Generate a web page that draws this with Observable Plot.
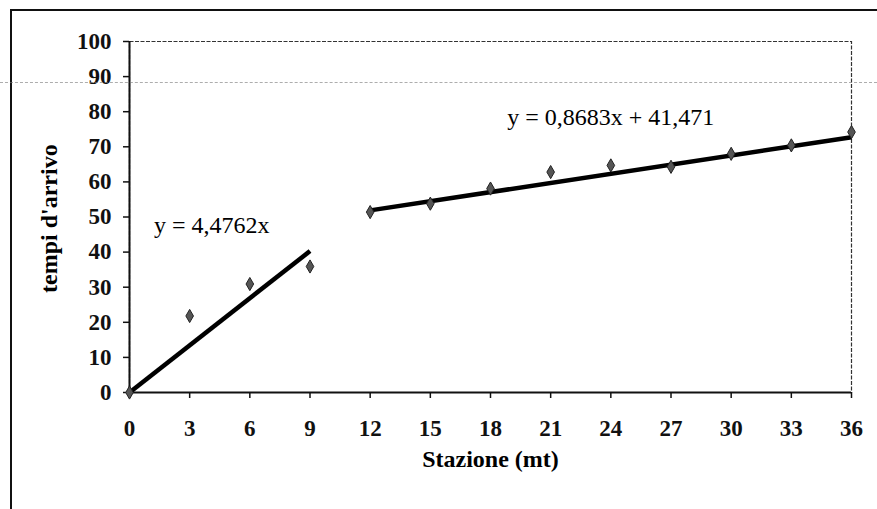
<!DOCTYPE html>
<html>
<head>
<meta charset="utf-8">
<script src="https://cdn.jsdelivr.net/npm/d3@7"></script>
<script src="https://cdn.jsdelivr.net/npm/@observablehq/plot@0.6"></script>
<style>
  html, body { margin: 0; padding: 0; background: #fff; }
  #wrap { position: relative; width: 877px; height: 509px; overflow: hidden; }
  #border { position: absolute; left: 10px; top: 9px; width: 900px; height: 520px;
            border-left: 2px solid #111; border-top: 2px solid #111; }
  #scanline { position: absolute; left: 0; top: 82px; width: 877px; height: 0;
              border-top: 1px dashed #777; opacity: 0.6; }
  #chart { position: absolute; left: 0; top: 0; }
</style>
</head>
<body>
<div id="wrap">
  <div id="border"></div>
  <div id="chart"></div>
  <div id="scanline"></div>
</div>
<script>
// Stations (m) and arrival times
const stations = [0, 3, 6, 9, 12, 15, 18, 21, 24, 27, 30, 33, 36];
const arrivalTimes = [0, 21.8, 30.9, 35.9, 51.4, 53.8, 58.1, 62.8, 64.7, 64.3, 68.0, 70.4, 74.2];

// Trend line definitions (from the equations on the chart)
const trendNames = ["y = 4,4762x", "y = 0,8683x + 41,471"];
const trendSlopes = [4.4762, 0.8683];
const trendIntercepts = [0, 41.471];
const trendStart = [0, 12];
const trendEnd = [9, 36];

// Axis ticks
const xTicks = [0, 3, 6, 9, 12, 15, 18, 21, 24, 27, 30, 33, 36];
const yTicks = [0, 10, 20, 30, 40, 50, 60, 70, 80, 90, 100];

const points = stations.map((s, i) => ({x: s, y: arrivalTimes[i]}));
const trendSegments = trendNames.map((name, i) => ({
  name,
  x1: trendStart[i], y1: trendSlopes[i] * trendStart[i] + trendIntercepts[i],
  x2: trendEnd[i],   y2: trendSlopes[i] * trendEnd[i] + trendIntercepts[i]
}));
const eqLabels = [
  {text: trendNames[0], x: 4.1, y: 47.6},
  {text: trendNames[1], x: 24.0, y: 78.4}
];

const serif = "'Liberation Serif', 'DejaVu Serif', serif";

const chart = Plot.plot({
  width: 877,
  height: 509,
  marginLeft: 129,
  marginRight: 26,
  marginTop: 41,
  marginBottom: 117,
  style: {fontFamily: serif, background: "transparent", color: "#111"},
  x: {domain: [0, 36]},
  y: {domain: [0, 100]},
  marks: [
    Plot.frame({stroke: "#333", strokeWidth: 1.2, strokeDasharray: "4,1.5"}),
    Plot.axisX({ticks: xTicks, tickSize: 6, tickPadding: 21, fontSize: 23, fontWeight: "bold",
                fontFamily: serif, label: null, strokeWidth: 1.5}),
    Plot.axisY({ticks: yTicks, tickSize: 6, tickPadding: 12, fontSize: 23, fontWeight: "bold",
                fontFamily: serif, label: null, strokeWidth: 1.5}),
    Plot.ruleY([0], {stroke: "#111", strokeWidth: 2}),
    Plot.ruleX([0], {stroke: "#111", strokeWidth: 2}),
    Plot.link(trendSegments, {x1: "x1", y1: "y1", x2: "x2", y2: "y2",
                              stroke: "#000", strokeWidth: 4.5}),
    Plot.dot(points, {x: "x", y: "y", symbol: "diamond", r: 4,
                      fill: "#555", stroke: "#222", strokeWidth: 1}),
    Plot.text(eqLabels, {x: "x", y: "y", text: "text", fontSize: 24,
                         fontFamily: serif, fill: "#000", textAnchor: "middle"}),
    Plot.text(["Stazione (mt)"], {frameAnchor: "bottom", dy: 74, fontSize: 24,
                                  fontWeight: "bold", fontFamily: serif, fill: "#000",
                                  letterSpacing: "1px"}),
    Plot.text(["tempi d'arrivo"], {frameAnchor: "left", dx: -80, dy: 76, rotate: -90,
                                   textAnchor: "start", fontSize: 24, fontWeight: "bold",
                                   fontFamily: serif, fill: "#000", letterSpacing: "1px"})
  ]
});
document.getElementById("chart").appendChild(chart);
</script>
</body>
</html>
